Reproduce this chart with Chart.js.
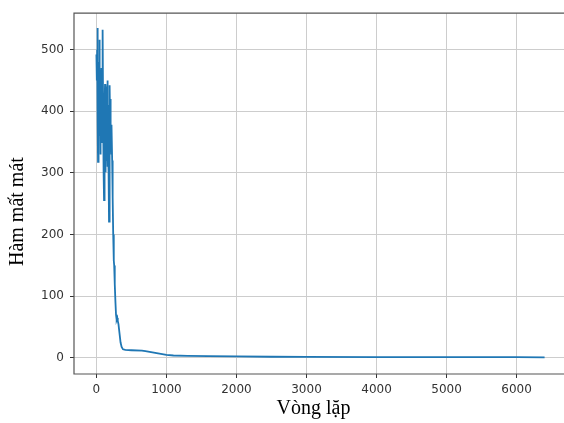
<!DOCTYPE html>
<html>
<head>
<meta charset="utf-8">
<script src="https://cdn.jsdelivr.net/npm/chart.js@4/dist/chart.umd.min.js"></script>
<style>
    html, body { margin: 0; padding: 0; background: #fff; overflow: hidden; }
    #lossChart { display: block; }
</style>
</head>
<body>
<canvas id="lossChart" width="567" height="423"></canvas>
<script>
// training loss per iteration
const iterations = [
    0, 4, 8, 11, 14, 17, 19, 21, 23, 26, 28, 31, 33, 36, 38, 41, 43, 46, 48, 51,
    53, 56, 58, 61, 63, 66, 68, 70, 73, 75, 78, 80, 83, 85, 88, 90, 92, 94, 97, 99,
    102, 104, 107, 109, 112, 114, 117, 119, 121, 123, 126, 128, 131, 133, 136, 138, 141, 143, 146, 148,
    151, 153, 155, 157, 160, 162, 165, 167, 170, 172, 174, 176, 178, 180, 183, 185, 188, 190, 192, 194,
    197, 199, 202, 204, 207, 209, 212, 214, 217, 219, 225, 232, 240, 246, 250, 254, 262, 272, 280, 286,
    292, 298, 305, 315, 330, 345, 360, 380, 413, 500, 650, 700, 800, 900, 1000, 1100, 1300, 1600, 2000, 2500,
    3000, 4000, 5000, 6000, 6400
];
const lossValues = [
    492, 470, 450, 500, 535, 460, 420, 380, 318, 400, 470, 350, 390, 440, 480, 380, 516, 420, 360, 470,
    440, 330, 400, 330, 420, 430, 350, 380, 460, 470, 360, 350, 420, 440, 380, 500, 470, 532, 380, 420,
    330, 380, 300, 256, 350, 400, 310, 340, 410, 444, 330, 360, 420, 301, 380, 420, 340, 370, 430, 440,
    320, 350, 410, 450, 360, 400, 310, 330, 380, 410, 350, 380, 300, 221, 330, 380, 350, 420, 400, 442,
    370, 400, 340, 420, 360, 370, 330, 365, 340, 378, 320, 260, 200, 165, 158, 150, 120, 90, 70, 66,
    62, 65, 60, 55, 40, 25, 18, 14, 13, 12.5, 12, 11, 9, 7, 5, 4, 3.5, 3, 2.5, 2,
    1.8, 1.5, 1.3, 1.2, 1.1
];
const xTicks = [0, 1000, 2000, 3000, 4000, 5000, 6000];
const yTicks = [0, 100, 200, 300, 400, 500];
const xTitle = 'Vòng lặp';
const yTitle = 'Hàm mất mát';

const points = iterations.map((it, i) => ({ x: it, y: lossValues[i] }));

// spines on the left, top and bottom of the plot area, plus the axis titles
const frame = {
    id: 'frame',
    afterDraw(chart) {
        const a = chart.chartArea;
        const ctx = chart.ctx;
        ctx.save();
        ctx.strokeStyle = '#555';
        ctx.lineWidth = 1.2;
        ctx.beginPath();
        ctx.moveTo(chart.width, a.top);
        ctx.lineTo(a.left, a.top);
        ctx.lineTo(a.left, a.bottom);
        ctx.lineTo(chart.width, a.bottom);
        ctx.stroke();

        ctx.fillStyle = '#000';
        ctx.font = '20px "Liberation Serif"';
        ctx.textAlign = 'center';
        ctx.textBaseline = 'middle';
        ctx.fillText(xTitle, (a.left + a.right) / 2 - 7, 409);

        ctx.translate(18, (a.top + a.bottom) / 2 + 18);
        ctx.rotate(-Math.PI / 2);
        ctx.fillText(yTitle, 0, 0);
        ctx.restore();
    }
};

const tickFont = { family: 'DejaVu Sans', size: 12 };

new Chart(document.getElementById('lossChart'), {
    type: 'line',
    data: {
        datasets: [{
            data: points,
            borderColor: '#1f77b4',
            borderWidth: 1.8,
            pointRadius: 0,
            tension: 0,
            fill: false
        }]
    },
    options: {
        responsive: false,
        animation: false,
        layout: { padding: { top: 8, right: 0, bottom: 0, left: 0 } },
        plugins: {
            legend: { display: false },
            tooltip: { enabled: false }
        },
        scales: {
            x: {
                type: 'linear',
                min: -320,
                max: 6720,
                afterBuildTicks: scale => { scale.ticks = xTicks.map(v => ({ value: v })); },
                afterFit: scale => { scale.height = 49; },
                ticks: {
                    includeBounds: false,
                    font: tickFont,
                    color: '#333',
                    padding: 5,
                    maxRotation: 0,
                    callback: v => String(v)
                },
                grid: { color: '#cdcdcd', lineWidth: 1, tickLength: 4, tickColor: '#333' },
                border: { display: false }
            },
            y: {
                type: 'linear',
                min: -26,
                max: 559,
                afterBuildTicks: scale => { scale.ticks = yTicks.map(v => ({ value: v })); },
                afterFit: scale => { scale.width = 74; },
                ticks: {
                    includeBounds: false,
                    font: tickFont,
                    color: '#333',
                    padding: 6,
                    callback: v => String(v)
                },
                grid: { color: '#cdcdcd', lineWidth: 1, tickLength: 4, tickColor: '#333' },
                border: { display: false }
            }
        }
    },
    plugins: [frame]
});
</script>
</body>
</html>
